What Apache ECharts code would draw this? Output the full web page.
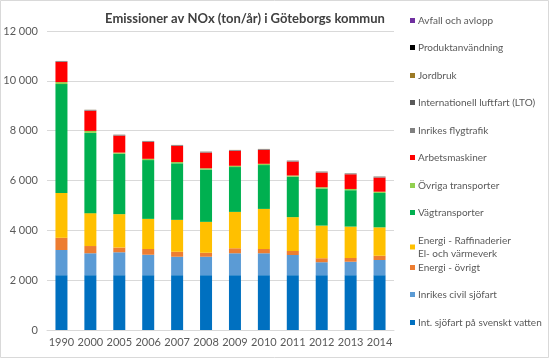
<!DOCTYPE html>
<html><head><meta charset="utf-8">
<script src="https://cdn.jsdelivr.net/npm/echarts@6/dist/echarts.min.js"></script>
<style>html,body{margin:0;padding:0;background:#fff}#c{width:549px;height:358px}</style>
</head><body><div id="c"></div>
<script>
const years = ['1990','2000','2005','2006','2007','2008','2009','2010','2011','2012','2013','2014'];
const intSjofart     = [2200,2200,2200,2200,2200,2200,2200,2200,2200,2200,2200,2200];
const inrikesSjofart = [1010,880,920,820,740,740,880,880,810,520,540,610];
const energiOvrigt   = [490,290,190,230,200,160,200,170,160,160,150,170];
const energiRaff     = [1800,1320,1340,1210,1280,1240,1460,1610,1360,1310,1260,1140];
const vagtransporter = [4370,3220,2420,2360,2270,2100,1800,1760,1620,1490,1460,1380];
const ovrigaTransp   = [80,80,50,50,50,50,50,50,50,50,50,50];
const arbetsmaskiner = [810,810,680,680,650,630,600,560,560,590,590,570];
const inrikesFlyg    = [20,20,20,20,20,20,20,20,20,20,20,20];
const intLuftfart    = [15,15,15,15,15,15,15,15,15,15,15,15];
const jordbruk       = [3,3,3,3,3,3,3,3,3,3,3,3];
const produkt        = [1,1,1,1,1,1,1,1,1,1,1,1];
const avfall         = [1,1,1,1,1,1,1,1,1,1,1,1];
const yTicks = [0,2000,4000,6000,8000,10000,12000];

const seriesDefs = [
  ['Int. sjöfart på svenskt vatten', intSjofart, '#0070C0'],
  ['Inrikes civil sjöfart', inrikesSjofart, '#5B9BD5'],
  ['Energi - övrigt', energiOvrigt, '#ED7D31'],
  ['Energi - Raffinaderier\nEl- och värmeverk', energiRaff, '#FFC000'],
  ['Vägtransporter', vagtransporter, '#00B050'],
  ['Övriga transporter', ovrigaTransp, '#92D050'],
  ['Arbetsmaskiner', arbetsmaskiner, '#FF0000'],
  ['Inrikes flygtrafik', inrikesFlyg, '#808080'],
  ['Internationell luftfart (LTO)', intLuftfart, '#595959'],
  ['Jordbruk', jordbruk, '#9C7A26'],
  ['Produktanvändning', produkt, '#000000'],
  ['Avfall och avlopp', avfall, '#7030A0']
];
const legendTops = [316,288,261,234,206,179,151,124,96,69,41,14];
const font = 'Lato, "Open Sans", sans-serif';
const fmt = v => String(v).replace(/\B(?=(\d{3})+(?!\d))/g, ' ');

const chart = echarts.init(document.getElementById('c'));
chart.setOption({
  animation: false,
  backgroundColor: '#fff',
  textStyle: {fontFamily: font},
  title: {text: 'Emissioner av NOx (ton/år) i Göteborgs kommun', left: 240, top: 7, textAlign: 'center',
    textStyle: {fontSize: 13, fontWeight: 'bold', color: '#404040', fontFamily: font}},
  legend: seriesDefs.map((s, i) => ({
    data: [s[0]], orient: 'vertical', left: 410, top: legendTops[i],
    icon: 'rect', itemWidth: 5, itemHeight: 5, itemGap: 0, padding: 0,
    selectedMode: false,
    textStyle: {fontSize: 10, color: '#595959', fontFamily: font, lineHeight: 13, padding: [0,0,0,-2]}
  })),
  grid: {left: 47, right: 155, top: 31, bottom: 28},
  xAxis: {type: 'category', data: years,
    axisLine: {lineStyle: {color: '#D9D9D9'}}, axisTick: {show: false},
    axisLabel: {interval: 0, fontSize: 11, color: '#595959', margin: 7, fontFamily: font}},
  yAxis: {type: 'value', min: yTicks[0], max: yTicks[yTicks.length-1], interval: 2000,
    axisLine: {show: false}, axisTick: {show: false},
    splitLine: {lineStyle: {color: '#D9D9D9'}},
    axisLabel: {fontSize: 11, color: '#595959', margin: 9, formatter: fmt, fontFamily: font}},
  series: seriesDefs.map(s => ({
    name: s[0], type: 'bar', stack: 'total', data: s[1], barWidth: 12,
    itemStyle: {color: s[2]}
  })),
  graphic: [{type: 'rect', shape: {x: 0.5, y: 0.5, width: 548, height: 357}, style: {fill: null, stroke: '#D9D9D9'}, silent: true}]
});
</script></body></html>
